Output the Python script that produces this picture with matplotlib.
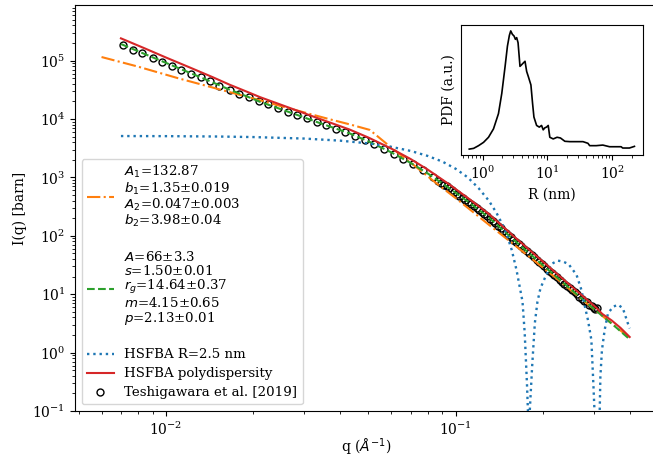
import numpy as np
import matplotlib
matplotlib.use("Agg")
import matplotlib.pyplot as plt
from matplotlib.lines import Line2D
from matplotlib.ticker import NullFormatter

plt.rcParams['font.family'] = ['DejaVu Serif']
plt.rcParams['mathtext.fontset'] = 'dejavusans'

# measured data (Teshigawara et al. 2019)
q_data = [0.0071, 0.0077, 0.0083, 0.0090, 0.0097, 0.0105, 0.0113, 0.0122, 0.0132, 0.0142,
          0.0153, 0.0166, 0.0179, 0.0193, 0.0209, 0.0225, 0.0243, 0.0263, 0.0284, 0.0306,
          0.0331, 0.0357, 0.0386, 0.0416, 0.0450, 0.0486, 0.0524, 0.0566, 0.0612, 0.0660,
          0.0713, 0.0770, 0.0832, 0.087, 0.089, 0.091, 0.093, 0.095, 0.097, 0.099,
          0.101, 0.103, 0.1055, 0.108, 0.1105, 0.113, 0.1155, 0.118, 0.1205, 0.123,
          0.1255, 0.128, 0.131, 0.134, 0.137, 0.140, 0.143, 0.146, 0.149, 0.152,
          0.155, 0.158, 0.1615, 0.165, 0.1685, 0.172, 0.1755, 0.179, 0.1825, 0.186,
          0.190, 0.194, 0.198, 0.202, 0.206, 0.210, 0.2145, 0.219, 0.2235, 0.228,
          0.2325, 0.237, 0.242, 0.247, 0.252, 0.257, 0.262, 0.267, 0.2725, 0.278,
          0.2835, 0.289, 0.2945, 0.300, 0.303, 0.306]
I_data = [1.82e5, 1.54e5, 1.33e5, 1.12e5, 9.6e4, 8.2e4, 7.0e4, 6.0e4, 5.13e4, 4.4e4,
          3.74e4, 3.17e4, 2.72e4, 2.37e4, 2.0e4, 1.77e4, 1.54e4, 1.34e4, 1.16e4, 1.03e4,
          8.9e3, 7.8e3, 6.8e3, 6.0e3, 5.16e3, 4.39e3, 3.69e3, 3.07e3, 2.53e3, 2.07e3,
          1.67e3, 1.32e3, 1.02e3, 880, 815, 755, 700, 650, 600, 560,
          520, 486, 445, 408, 375, 346, 320, 294, 275, 251,
          232, 216, 196, 180, 165, 148, 135, 123, 112, 103,
          94, 86, 79, 71.7, 66, 59.9, 55, 50.5, 46.5, 42.8,
          39, 35.8, 33, 30.0, 27.5, 25.4, 23.2, 21.2, 19.4, 17.2,
          16.3, 15.1, 13.8, 12.6, 11.8, 10.9, 9.9, 9.0, 8.3, 7.7,
          7.3, 6.6, 6.2, 5.9, 5.5, 5.8]

# two power law fit
q_pow = [0.0060, 0.0080, 0.0110, 0.0150, 0.0200, 0.0260, 0.0310, 0.0370, 0.0430, 0.0505,
         0.0592, 0.070, 0.085, 0.100, 0.130, 0.170, 0.220, 0.300, 0.400]
I_pow = [1.15e5, 7.9e4, 5.0e4, 3.3e4, 2.25e4, 1.57e4, 1.24e4, 9.8e3, 8.1e3, 6.5e3,
         3.4e3, 1.78e3, 820, 440, 155, 54, 19.5, 5.5, 1.75]

# fractal / unified fit
q_frac = [0.0070, 0.0085, 0.010, 0.012, 0.0145, 0.0166, 0.0195, 0.0211, 0.027, 0.034,
          0.043, 0.050, 0.060, 0.070, 0.080, 0.0953, 0.1117, 0.130, 0.1596, 0.200,
          0.250, 0.305, 0.350, 0.398]
I_frac = [1.92e5, 1.28e5, 9.15e4, 6.27e4, 4.24e4, 3.17e4, 2.32e4, 1.97e4, 1.28e4, 8.5e3,
          5.68e3, 4.13e3, 2.67e3, 1.76e3, 1.17e3, 645, 365, 206, 82.7, 31.3,
          12.0, 5.2, 2.95, 1.69]

# HSFBA monodisperse sphere R = 2.5 nm
q_mono = [0.007, 0.010, 0.015, 0.020, 0.030, 0.040, 0.050, 0.060, 0.070, 0.080,
          0.090, 0.100, 0.110, 0.120, 0.130, 0.138, 0.145, 0.150, 0.156, 0.162,
          0.1699, 0.1729, 0.1760, 0.1774, 0.1787, 0.1800, 0.1834, 0.1874, 0.1913, 0.196,
          0.203, 0.214, 0.225, 0.235, 0.245, 0.261, 0.271, 0.279, 0.2858, 0.2936,
          0.2982, 0.3010, 0.3075, 0.3137, 0.3154, 0.3193, 0.3263, 0.335, 0.349, 0.363,
          0.377, 0.392, 0.398]
I_mono = [5100, 5080, 5010, 4900, 4620, 4250, 3820, 3330, 2830, 2330,
          1860, 1400, 1000, 650, 400, 250, 155, 105, 57, 26,
          7.5, 2.17, 0.30, 0.1, 0.001, 0.1, 0.575, 3.2, 7.4, 12.7,
          19, 33, 37.6, 36, 32.7, 21.4, 12, 6.1, 3.6, 1.65,
          0.30, 0.1, 0.001, 0.1, 0.39, 1.1, 2.45, 4.7, 6.1, 6.6,
          5.75, 3.2, 2.6]

# HSFBA with size distribution
q_poly = [0.0070, 0.0085, 0.010, 0.012, 0.0145, 0.0166, 0.0195, 0.0211, 0.027, 0.034,
          0.043, 0.050, 0.060, 0.070, 0.080, 0.0953, 0.1117, 0.130, 0.1596, 0.200,
          0.250, 0.305, 0.320, 0.345, 0.370, 0.398]
I_poly = [2.40e5, 1.60e5, 1.13e5, 7.74e4, 5.2e4, 3.86e4, 2.79e4, 2.37e4, 1.52e4, 1.0e4,
          6.6e3, 4.8e3, 3.1e3, 2.05e3, 1.36e3, 750, 420, 237, 95, 36,
          13.8, 5.9, 4.6, 3.55, 2.65, 1.85]

# size distribution (inset)
R_pdf = [0.624, 0.728, 0.868, 1.036, 1.236, 1.475, 1.76, 1.98, 2.228, 2.42,
         2.594, 2.72, 2.886, 3.06, 3.21, 3.36, 3.53, 3.78, 4.01, 4.26,
         4.52, 4.79, 5.08, 5.57, 5.91, 6.2, 6.82, 7.5, 8.13, 8.62,
         9.14, 9.7, 10.3, 10.9, 12.3, 14.1, 15.9, 18.6, 22.2, 28.0,
         35.4, 42.2, 44.9, 56.7, 71.6, 90.8, 114, 137, 145, 184, 220]
pdf = [0.0, 0.006, 0.029, 0.057, 0.1, 0.171, 0.3, 0.471, 0.7, 0.871,
       0.963, 1.0, 0.971, 0.957, 0.929, 0.943, 0.9, 0.7, 0.714, 0.729,
       0.743, 0.657, 0.614, 0.543, 0.386, 0.271, 0.2, 0.186, 0.2, 0.163,
       0.18, 0.186, 0.2, 0.1, 0.086, 0.1, 0.094, 0.066, 0.063, 0.063,
       0.063, 0.049, 0.029, 0.029, 0.034, 0.02, 0.02, 0.02, 0.009, 0.009, 0.023]

lab_pow = ("$A_1$=132.87\n$b_1$=1.35\u00b10.019\n"
           "$A_2$=0.047\u00b10.003\n$b_2$=3.98\u00b10.04")
lab_frac = ("$A$=66\u00b13.3\n$s$=1.50\u00b10.01\n$r_g$=14.64\u00b10.37\n"
            "$m$=4.15\u00b10.65\n$p$=2.13\u00b10.01")

fig = plt.figure(figsize=(6.53, 4.59), dpi=100)
ax = fig.add_axes([75/653, 48/459, 583.4/653, 405.6/459])

h_data, = ax.plot(q_data, I_data, 'o', mfc='none', mec='black', ms=5, mew=1.0,
                  label='Teshigawara et al. [2019]')
h_pow, = ax.plot(q_pow, I_pow, '-.', color='tab:orange', lw=1.5, label=lab_pow)
h_frac, = ax.plot(q_frac, I_frac, '--', color='tab:green', lw=1.5, label=lab_frac)
h_mono, = ax.plot(q_mono, I_mono, ':', color='tab:blue', lw=1.7, label='HSFBA R=2.5 nm')
h_poly, = ax.plot(q_poly, I_poly, '-', color='tab:red', lw=1.5, label='HSFBA polydispersity')

ax.set_xscale('log')
ax.set_yscale('log')
ax.set_xlim(0.00486, 0.5)
ax.set_ylim(0.1, 8.8e5)
ax.xaxis.set_minor_formatter(NullFormatter())
ax.yaxis.set_minor_formatter(NullFormatter())
ax.set_xlabel(r'q ($Å^{-1}$)', labelpad=-1)
ax.set_ylabel('I(q) [barn]')

# empty rows to separate the fit parameter blocks
blank1 = Line2D([], [], color='none', label=' ')
blank2 = Line2D([], [], color='none', label=' ')
leg = ax.legend(handles=[h_pow, blank1, h_frac, blank2, h_mono, h_poly, h_data],
                loc='lower left', fontsize=9.6, handleheight=0.5, labelspacing=0.44)
texts = leg.get_texts()
texts[0].set_linespacing(1.0)
texts[2].set_linespacing(1.0)
texts[1].set_fontsize(4)
texts[3].set_fontsize(4)

# inset with the size distribution
axin = fig.add_axes([461/653, 304/459, 181.7/653, 130/459])
axin.plot(R_pdf, pdf, color='black', lw=1.2)
axin.set_xscale('log')
axin.set_yticks([])
axin.xaxis.set_minor_formatter(NullFormatter())
axin.set_xlabel('R (nm)')
axin.set_ylabel('PDF (a.u.)')

fig.savefig('out.png', dpi=100)
